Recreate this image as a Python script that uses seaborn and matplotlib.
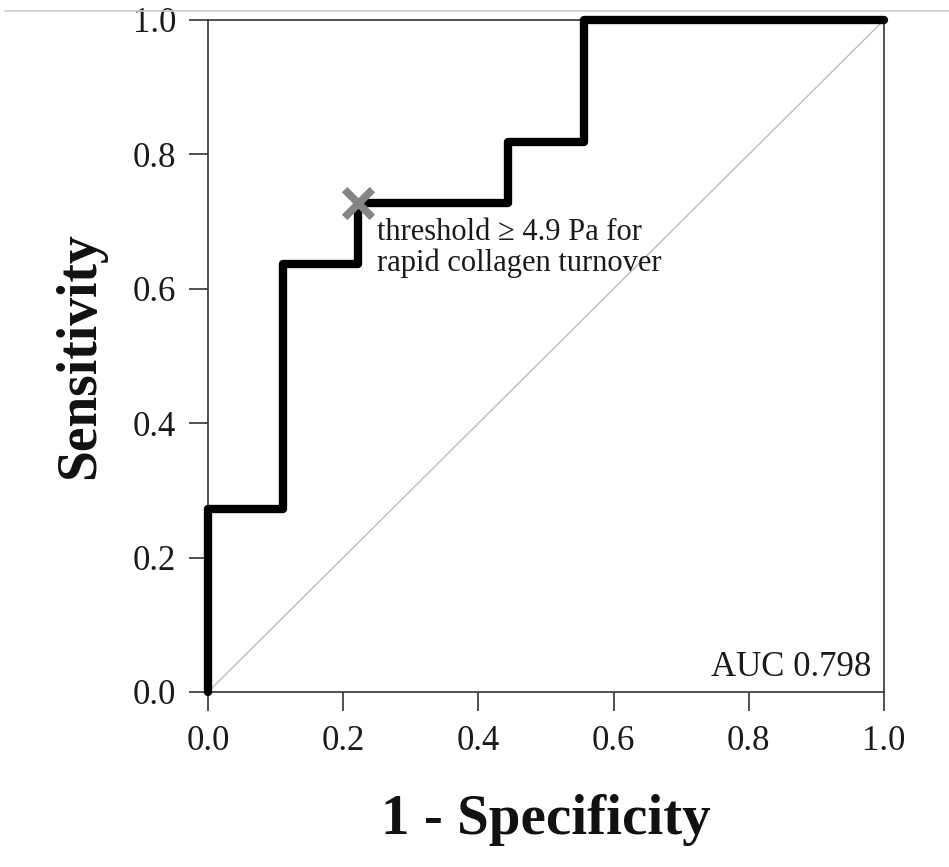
import matplotlib
matplotlib.use("Agg")
import matplotlib.pyplot as plt
import seaborn as sns
import pandas as pd
from matplotlib.lines import Line2D

# ROC data (1 - specificity, sensitivity)
fpr = [0.0, 0.0, 1/9, 1/9, 2/9, 2/9, 4/9, 4/9, 5/9, 5/9, 1.0]
tpr = [0.0, 3/11, 3/11, 7/11, 7/11, 8/11, 8/11, 9/11, 9/11, 1.0, 1.0]
cut_fpr = [2/9]
cut_tpr = [8/11]
diag = [0.0, 1.0]
ticks = [0.0, 0.2, 0.4, 0.6, 0.8, 1.0]
tick_labels = ["0.0", "0.2", "0.4", "0.6", "0.8", "1.0"]
auc_text = "AUC 0.798"
note_text = "threshold \u2265 4.9 Pa for\nrapid collagen turnover"

sns.set_theme(style="ticks")
plt.rcParams["font.family"] = ["Liberation Serif", "DejaVu Serif"]

fig = plt.figure(figsize=(9.49, 8.67), dpi=100)
ax = fig.add_axes([208/949, 1 - 692/867, (884-208)/949, (692-20)/867])

roc = pd.DataFrame({"fpr": fpr, "tpr": tpr})
dg = pd.DataFrame({"x": diag, "y": diag})

sns.lineplot(data=dg, x="x", y="y", ax=ax, color="#bdbdbd", linewidth=1.0,
             estimator=None, sort=False)
sns.lineplot(data=roc, x="fpr", y="tpr", ax=ax, color="black", linewidth=6.0,
             estimator=None, sort=False, clip_on=False, zorder=5)
sns.scatterplot(x=cut_fpr, y=cut_tpr, ax=ax, marker="x", s=400, color="#858585",
                linewidth=5.5, zorder=6, clip_on=False)

ax.text(cut_fpr[0] + 0.028, cut_tpr[0] - 0.022, note_text, fontsize=22,
        va="top", ha="left", color="#1a1a1a", linespacing=1.08)
ax.text(0.982, 0.012, auc_text, fontsize=25, ha="right", va="bottom",
        color="#1a1a1a", transform=ax.transAxes)

ax.set_xlim(0, 1)
ax.set_ylim(0, 1)
ax.set_xticks(ticks)
ax.set_yticks(ticks)
ax.set_xticklabels(tick_labels, fontsize=25, color="#1a1a1a")
ax.set_yticklabels(tick_labels, fontsize=25, color="#1a1a1a")
ax.tick_params(direction="out", length=14, width=1.2, color="#333333")
ax.tick_params(axis="x", pad=10)
ax.tick_params(axis="y", pad=9)
for s in ax.spines.values():
    s.set_visible(True)
    s.set_linewidth(1.2)
    s.set_color("#333333")

ax.set_xlabel("1 - Specificity", fontsize=41, fontweight="bold", labelpad=26,
              color="#111111")
ax.set_ylabel("Sensitivity", fontsize=40, fontweight="bold", labelpad=19,
              color="#111111")

fig.add_artist(Line2D([5/949, 1.0], [1 - 11/867, 1 - 11/867],
                      transform=fig.transFigure, color="#cccccc", linewidth=1.2))

fig.savefig("out.png", dpi=100)
